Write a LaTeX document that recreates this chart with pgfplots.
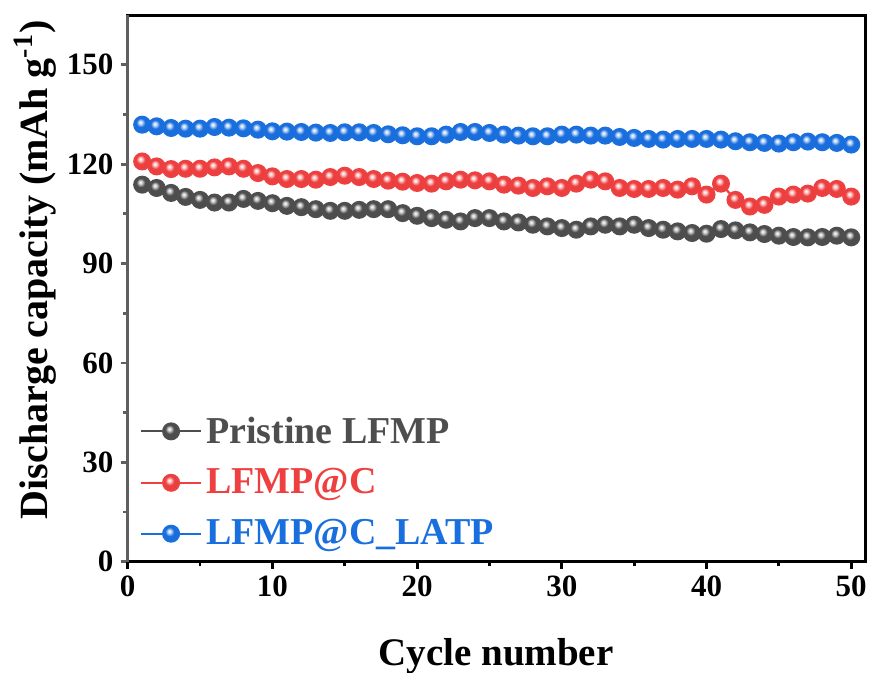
\documentclass[border=0pt]{standalone}
\usepackage{fontspec}
\setmainfont{Liberation Serif}
\usepackage{pgfplots}
\pgfplotsset{compat=1.18}
\definecolor{cgray}{RGB}{78,78,78}
\definecolor{cred}{RGB}{238,64,64}
\definecolor{cblue}{RGB}{26,111,222}
\definecolor{spinegray}{RGB}{95,95,95}
\makeatletter
\pgfdeclareradialshading[tikz@ball]{ball}{\pgfqpoint{-6bp}{8bp}}{%
 color(0bp)=(white);
 color(5bp)=(tikz@ball!25!white);
 color(14bp)=(tikz@ball);
 color(40bp)=(tikz@ball!94!black);
 color(54bp)=(tikz@ball!80!black);
 color(70bp)=(tikz@ball!65!black)}
\makeatother
\begin{document}
\begin{tikzpicture}
\begin{axis}[
  scale only axis,
  width=369pt, height=273.35pt,
  xmin=0, xmax=51, ymin=0, ymax=165,
  xtick={0,10,...,50}, ytick={0,30,...,150},
  minor x tick num=1, minor y tick num=1,
  tick align=outside,
  xtick pos=left, ytick pos=left,
  major tick length=3.6pt, minor tick length=2.2pt,
  every tick/.style={line width=1.4pt, black},
  y tick style={spinegray}, minor y tick style={spinegray},
  axis line style={line width=1.5pt, black},
  tick label style={font=\fontsize{15.5}{17}\selectfont\bfseries},
  /pgf/number format/assume math mode=true,
  xlabel={\fontsize{19.5}{21}\selectfont\bfseries Cycle number},
  ylabel={\fontsize{20}{21}\selectfont\bfseries Discharge capacity (mAh g\textsuperscript{-1})},
  xlabel style={at={(axis description cs:0.499,-0.18895)}, anchor=base},
  ylabel style={at={(axis description cs:-0.1257,0.534)}, anchor=center},
  legend style={at={(0.008,0.01)}, anchor=south west, draw=none, fill=none,
    font=\fontsize{19}{20}\selectfont\bfseries, row sep=7.3pt,
    legend cell align=left},
  legend image code/.code={\draw[mark repeat=2,mark phase=2,#1] plot coordinates {(0pt,0pt) (15pt,0pt) (30pt,0pt)};},
]
\coordinate (BL) at (rel axis cs:0,0);
\coordinate (TR) at (rel axis cs:1,1);
\addplot[cgray, line width=1.1pt, mark=ball, mark size=3.95pt, mark options={ball color=cgray}] coordinates {
(1,113.8)(2,112.8)(3,111.3)(4,110.1)(5,109.2)(6,108.4)(7,108.4)(8,109.5)(9,108.9)(10,108.2)
(11,107.4)(12,107.0)(13,106.4)(14,105.9)(15,105.9)(16,106.2)(17,106.4)(18,106.4)(19,105.2)(20,104.4)
(21,103.7)(22,103.2)(23,102.7)(24,103.7)(25,103.7)(26,102.7)(27,102.4)(28,101.7)(29,101.2)(30,100.7)
(31,100.2)(32,101.2)(33,101.7)(34,101.2)(35,101.7)(36,100.7)(37,100.2)(38,99.7)(39,99.2)(40,99.0)
(41,100.4)(42,100.0)(43,99.4)(44,98.9)(45,98.4)(46,98.0)(47,97.9)(48,98.0)(49,98.4)(50,97.9)
};
\addlegendentry{\textcolor{cgray}{Pristine LFMP}}
\addplot[cred, line width=1.1pt, mark=ball, mark size=3.95pt, mark options={ball color=cred}] coordinates {
(1,120.8)(2,119.3)(3,118.5)(4,118.6)(5,118.6)(6,119.0)(7,119.3)(8,118.6)(9,117.3)(10,116.3)
(11,115.5)(12,115.5)(13,115.3)(14,116.1)(15,116.5)(16,116.1)(17,115.5)(18,115.0)(19,114.7)(20,114.3)
(21,114.1)(22,114.8)(23,115.3)(24,115.1)(25,114.8)(26,113.8)(27,113.5)(28,112.8)(29,113.3)(30,112.8)
(31,114.1)(32,115.3)(33,114.8)(34,112.8)(35,112.5)(36,112.5)(37,112.8)(38,112.3)(39,113.3)(40,110.8)
(41,114.1)(42,109.2)(43,107.2)(44,107.7)(45,110.2)(46,110.8)(47,111.1)(48,112.8)(49,112.5)(50,110.2)
};
\addlegendentry{\textcolor{cred}{LFMP@C}}
\addplot[cblue, line width=1.1pt, mark=ball, mark size=3.95pt, mark options={ball color=cblue}] coordinates {
(1,131.9)(2,131.4)(3,130.9)(4,130.7)(5,130.7)(6,131.2)(7,131.0)(8,130.8)(9,130.4)(10,129.9)
(11,129.8)(12,129.7)(13,129.5)(14,129.4)(15,129.6)(16,129.6)(17,129.4)(18,129.0)(19,128.7)(20,128.4)
(21,128.4)(22,128.9)(23,129.7)(24,129.7)(25,129.4)(26,128.9)(27,128.6)(28,128.4)(29,128.4)(30,128.9)
(31,128.9)(32,128.6)(33,128.6)(34,128.2)(35,127.9)(36,127.6)(37,127.4)(38,127.6)(39,127.6)(40,127.6)
(41,127.4)(42,126.9)(43,126.6)(44,126.4)(45,126.2)(46,126.6)(47,126.8)(48,126.6)(49,126.4)(50,125.9)
};
\addlegendentry{\textcolor{cblue}{LFMP@C\_LATP}}
\end{axis}
\draw[spinegray, line width=1.5pt] (BL) -- (BL|-TR);
\pgfresetboundingbox
\path ([shift={(-63.85pt,-55.15pt)}]BL) rectangle ([shift={(1.65pt,7.5pt)}]TR);
\end{tikzpicture}
\end{document}
